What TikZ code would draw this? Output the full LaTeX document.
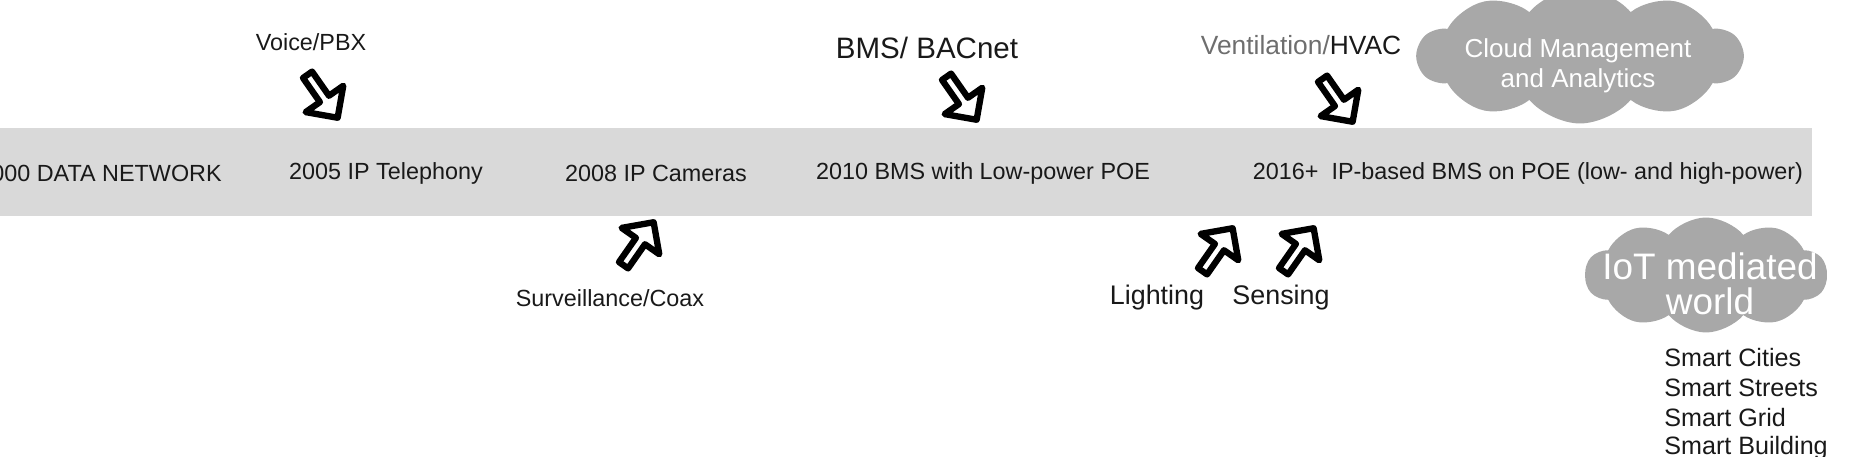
\documentclass[tikz,border=0pt]{standalone}
\usepackage{fontspec}
\setmainfont{Liberation Sans}
\usetikzlibrary{shapes.symbols, shapes.arrows}

\definecolor{bandgray}{HTML}{D9D9D9}
\definecolor{cloudgray}{HTML}{A8A8A8}
\definecolor{ventgray}{HTML}{6E6E6E}

\tikzset{
  band/.style={fill=bandgray, draw=none},
  era/.style={font=\fontsize{13.3}{16}\selectfont, text=black!90, inner sep=0pt},
  tag/.style={font=\fontsize{13.3}{16}\selectfont, text=black!90, inner sep=0pt},
  blockarrow/.style={single arrow, draw=black, line width=3.6pt, line join=round, fill=white,
    minimum height=1.05cm, minimum width=0.92cm, single arrow head extend=0.2cm, inner sep=0pt},
  cloudbg/.style={cloud, cloud puffs=10, cloud puff arc=100, aspect=2.4, fill=cloudgray, draw=none, inner sep=0pt},
  cloudtxt/.style={text=white, align=center, inner sep=0pt},
  smarttxt/.style={font=\fontsize{14.3}{17}\selectfont, text=black!90, inner sep=0pt, anchor=west}
}

\begin{document}
\begin{tikzpicture}[x=0.02cm, y=-0.02cm]
\useasboundingbox (0,0) rectangle (1871,456);

% timeline band
\fill[band] (0,128) rectangle (1812,216);

\node[era, anchor=east] (y2000) at (222,173) {000 DATA NETWORK};
\node[era] (y2005) at (386,173) {2005 IP Telephony};
\node[era] (y2008) at (656,173) {2008 IP Cameras};
\node[era] (y2010) at (983,173) {2010 BMS with Low-power POE};
\node[era] (y2016) at (1528,173) {2016+\ \ IP-based BMS on POE (low- and high-power)};

% clouds
\node[cloudbg, minimum width=6.5cm, minimum height=2.7cm] (cloudmgmt) at (1580,56) {};
\node[cloudtxt, font=\fontsize{14.8}{17}\selectfont] (cloudmgmttxt) at (1578,66) {Cloud Management\\and Analytics};

\node[cloudbg, minimum width=4.84cm, minimum height=2.3cm] (iotcloud) at (1706,275) {};
\node[cloudtxt, font=\fontsize{21}{20}\selectfont] (iottxt) at (1710,284) {IoT mediated\\world};

% labels
\node[tag] (voice) at (311,42) {Voice/PBX};
\node[tag, font=\fontsize{16.8}{20}\selectfont] (bms) at (927,48) {BMS/ BACnet};
\node[tag, font=\fontsize{15}{18}\selectfont] (hvac) at (1301,45) {\textcolor{ventgray}{Ventilation/}HVAC};
\node[tag] (surv) at (610,298) {Surveillance/Coax};
\node[tag, font=\fontsize{15.3}{18}\selectfont] (light) at (1157,298) {Lighting};
\node[tag, font=\fontsize{15.3}{18}\selectfont] (sense) at (1281,298) {Sensing};

% arrows
\foreach \x/\y/\a/\n in {321/94/-55/voice, 960/96/-55/bms, 1336/98/-55/hvac,
                         637/246/55/surv, 1216/252/55/light, 1297/252/55/sense}
  \node[blockarrow, rotate=\a] (arr\n) at (\x,\y) {};

% smart list
\foreach \t [count=\i] in {Smart Cities, Smart Streets, Smart Grid, Smart Building}
  \node[smarttxt] (smart\i) at (1664,328+30*\i) {\t};

\end{tikzpicture}
\end{document}
